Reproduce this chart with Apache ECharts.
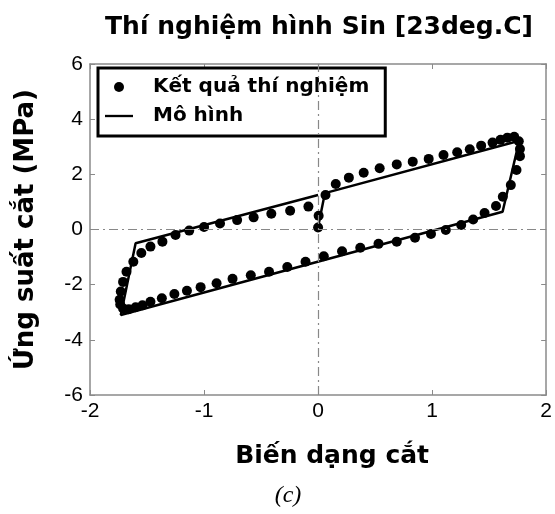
<!DOCTYPE html>
<html><head><meta charset="utf-8">
<script src="https://cdn.jsdelivr.net/npm/echarts@6/dist/echarts.min.js"></script>
<style>html,body{margin:0;padding:0;background:#fff}#c{width:555px;height:514px}</style>
</head><body><div id="c"></div>
<script>
// Experimental points (Kết quả thí nghiệm), in loop order
const expX = [0.00, 0.005, 0.065, 0.155, 0.27, 0.40, 0.54, 0.69, 0.83, 0.97, 1.10, 1.22, 1.33, 1.43, 1.53, 1.60, 1.66, 1.72, 1.76, 1.77, 1.77, 1.74, 1.69, 1.62, 1.56, 1.46, 1.36, 1.255, 1.12, 0.99, 0.85, 0.69, 0.53, 0.37, 0.21, 0.05, -0.11, -0.27, -0.43, -0.59, -0.75, -0.89, -1.03, -1.15, -1.26, -1.37, -1.47, -1.54, -1.60, -1.66, -1.71, -1.735, -1.74, -1.73, -1.71, -1.68, -1.62, -1.55, -1.47, -1.365, -1.25, -1.13, -1.00, -0.86, -0.71, -0.565, -0.41, -0.245, -0.085];
const expY = [0.07, 0.50, 1.25, 1.65, 1.88, 2.06, 2.22, 2.36, 2.46, 2.56, 2.70, 2.80, 2.91, 3.04, 3.15, 3.25, 3.33, 3.36, 3.20, 2.92, 2.66, 2.16, 1.61, 1.19, 0.85, 0.60, 0.36, 0.16, -0.02, -0.16, -0.30, -0.44, -0.52, -0.66, -0.79, -0.97, -1.17, -1.36, -1.53, -1.66, -1.79, -1.95, -2.09, -2.22, -2.34, -2.49, -2.62, -2.75, -2.82, -2.89, -2.86, -2.72, -2.55, -2.25, -1.90, -1.53, -1.17, -0.85, -0.62, -0.44, -0.20, -0.04, 0.09, 0.22, 0.34, 0.44, 0.57, 0.68, 0.83];
// Model (Mô hình)
const modelX = [0.00, 0.06, 1.764, 1.618, -1.73, -1.60, 0.00];
const modelY = [0.09, 1.32, 3.22, 0.645, -3.10, -0.50, 1.25];
// Axes
const xTicks = [-2, -1, 0, 1, 2];
const yTicks = [-6, -4, -2, 0, 2, 4, 6];
const seriesNames = ['Kết quả thí nghiệm', 'Mô hình'];
const titleText = 'Thí nghiệm hình Sin [23deg.C]';
const xName = 'Biến dạng cắt';
const yName = 'Ứng suất cắt (MPa)';
const caption = '(c)';

const chart = echarts.init(document.getElementById('c'));
const axisGray = '#8a8a8a';
const tickFont = {fontFamily: 'Liberation Sans', fontSize: 21, color: '#000'};
const boldFont = 'DejaVu Sans';

const baseX = {
  type: 'value', min: xTicks[0], max: xTicks[xTicks.length-1], interval: 1,
  axisLine: {show: true, onZero: false, lineStyle: {color: axisGray, width: 1.5}},
  axisTick: {show: true, inside: true, length: 5, lineStyle: {color: axisGray}},
  splitLine: {show: false}
};
const baseY = {
  type: 'value', min: yTicks[0], max: yTicks[yTicks.length-1], interval: 2,
  axisLine: {show: true, onZero: false, lineStyle: {color: axisGray, width: 1.5}},
  axisTick: {show: true, inside: true, length: 5, lineStyle: {color: axisGray}},
  splitLine: {show: false}
};

chart.setOption({
  animation: false,
  title: [
    {text: titleText, left: 314, top: 10, textAlign: 'center',
     textStyle: {fontFamily: boldFont, fontWeight: 'bold', fontSize: 25, color: '#000'}},
    {text: caption, left: 283, top: 479, textAlign: 'center',
     textStyle: {fontFamily: 'Liberation Serif', fontStyle: 'italic', fontWeight: 'normal', fontSize: 24, color: '#000'}}
  ],
  grid: {left: 90, right: 8, top: 64, bottom: 119, containLabel: false},
  legend: {
    left: 98, top: 68, orient: 'vertical',
    padding: [8, 16, 9, 7], itemGap: 7, itemWidth: 28, itemHeight: 10,
    borderColor: '#000', borderWidth: 3, backgroundColor: '#fff',
    textStyle: {fontFamily: boldFont, fontWeight: 'bold', fontSize: 20, color: '#000', padding: [0, 0, 0, 15], lineHeight: 22},
    data: [{name: seriesNames[0], icon: 'circle'}, {name: seriesNames[1], icon: 'path://M0,0H30V2.5H0Z'}]
  },
  xAxis: [
    Object.assign({}, baseX, {position: 'bottom', axisLabel: Object.assign({margin: 6}, tickFont),
      name: xName, nameLocation: 'middle', nameGap: 49,
      nameTextStyle: {fontFamily: boldFont, fontWeight: 'bold', fontSize: 25, color: '#000', padding: [0, 0, 0, 28]}}),
    Object.assign({}, baseX, {position: 'top', axisLabel: {show: false}})
  ],
  yAxis: [
    Object.assign({}, baseY, {position: 'left', axisLabel: Object.assign({margin: 7}, tickFont),
      name: yName, nameLocation: 'middle', nameGap: 51,
      nameTextStyle: {fontFamily: boldFont, fontWeight: 'bold', fontSize: 26, color: '#000'}}),
    Object.assign({}, baseY, {position: 'right', axisLabel: {show: false}})
  ],
  series: [
    {name: seriesNames[1], type: 'line', xAxisIndex: 0, yAxisIndex: 0,
     data: modelX.map((x, i) => [x, modelY[i]]),
     showSymbol: false, symbol: 'none', color: '#000',
     lineStyle: {color: '#000', width: 2.5}, z: 2,
     markLine: {silent: true, symbol: ['none', 'none'], label: {show: false},
       lineStyle: {color: '#888', width: 1.2, type: [9, 4, 2, 4]},
       data: [{xAxis: 0}, {yAxis: 0}]}},
    {name: seriesNames[0], type: 'scatter', xAxisIndex: 0, yAxisIndex: 0,
     data: expX.map((x, i) => [x, expY[i]]),
     symbol: 'circle', symbolSize: 10, itemStyle: {color: '#000', opacity: 1}, z: 3}
  ]
});
</script></body></html>
